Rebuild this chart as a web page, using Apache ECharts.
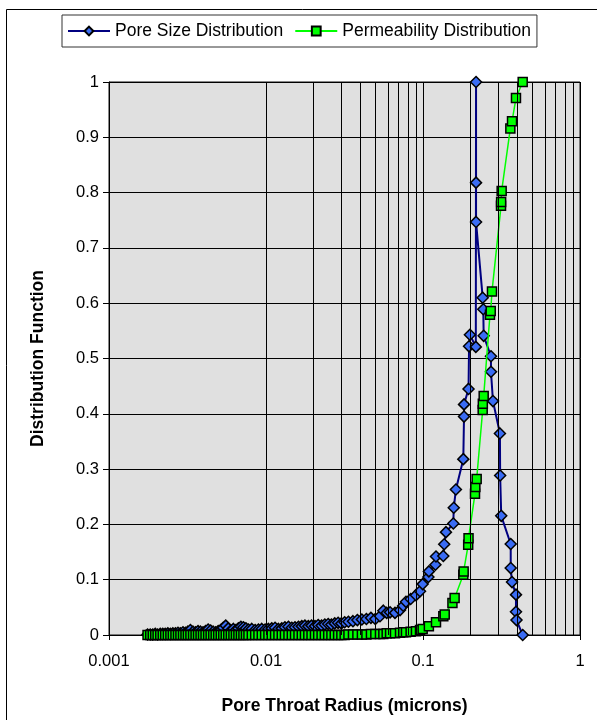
<!DOCTYPE html>
<html>
<head>
<meta charset="utf-8">
<script src="https://cdn.jsdelivr.net/npm/echarts@6/dist/echarts.min.js"></script>
<style>
  html, body { margin: 0; padding: 0; background: #fff; }
  #chart { width: 597px; height: 720px; }
</style>
</head>
<body>
<div id="chart"></div>
<script>
// Low-radius tail shared by both curves (microns)
const tailRadius = [
  0.00176, 0.00183, 0.0019, 0.00197, 0.00204, 0.00212, 0.0022, 0.00228, 0.00237, 0.00246,
  0.00255, 0.00265, 0.00275, 0.00285, 0.00296, 0.00307, 0.00318, 0.0033, 0.00343, 0.00356,
  0.00369, 0.00383, 0.00397, 0.00412, 0.00428, 0.00444, 0.00461, 0.00478, 0.00496, 0.00515,
  0.00534, 0.00554, 0.00575, 0.00597, 0.0062, 0.00643, 0.00667, 0.00692, 0.00718, 0.00745,
  0.00773,
  0.00812, 0.00853, 0.00895, 0.0094, 0.00987, 0.01036, 0.01088, 0.01142, 0.012, 0.0126,
  0.0132, 0.0139, 0.0146, 0.0153, 0.0161, 0.0169, 0.0177, 0.0186, 0.0195, 0.0205,
  0.0215, 0.0226, 0.0237, 0.0249, 0.0261, 0.0274, 0.0288, 0.0302, 0.0317,
  0.0335, 0.0358, 0.0382, 0.0408, 0.0436, 0.0466, 0.0497, 0.0532, 0.0559, 0.0587,
  0.0617, 0.0663, 0.0714, 0.0748, 0.0779, 0.0834, 0.0902, 0.0957, 0.0995
];

// Pore size distribution over the tail
const poreTail = [
  0.001, 0.001, 0.001, 0.002, 0.001, 0.002, 0.002, 0.002, 0.003, 0.002,
  0.003, 0.003, 0.004, 0.003, 0.005, 0.004, 0.006, 0.009, 0.006, 0.005,
  0.007, 0.006, 0.005, 0.007, 0.010, 0.008, 0.006, 0.005, 0.007, 0.009,
  0.013, 0.017, 0.012, 0.008, 0.011, 0.009, 0.012, 0.015, 0.014, 0.012,
  0.010,
  0.011, 0.009, 0.010, 0.011, 0.010, 0.011, 0.012, 0.013, 0.011, 0.012,
  0.014, 0.015, 0.013, 0.014, 0.015, 0.016, 0.017, 0.016, 0.017, 0.016,
  0.018, 0.017, 0.019, 0.020, 0.019, 0.021, 0.022, 0.021, 0.023,
  0.024, 0.025, 0.027, 0.028, 0.029, 0.031, 0.029, 0.034, 0.044, 0.040,
  0.041, 0.040, 0.045, 0.053, 0.060, 0.065, 0.072, 0.079, 0.092
];

// Permeability distribution over the tail
const permTail = [
  0, 0, 0, 0, 0, 0, 0, 0, 0, 0,
  0, 0, 0, 0, 0, 0, 0, 0, 0, 0,
  0, 0, 0, 0, 0, 0, 0, 0, 0, 0,
  0, 0, 0, 0, 0, 0, 0, 0, 0, 0,
  0,
  0, 0, 0, 0, 0, 0, 0, 0, 0, 0,
  0, 0, 0, 0, 0, 0, 0, 0, 0, 0,
  0, 0, 0, 0, 0, 0, 0, 0, 0,
  0.001, 0.001, 0.001, 0.001, 0.001, 0.002, 0.002, 0.002, 0.002, 0.003,
  0.003, 0.003, 0.004, 0.005, 0.005, 0.006, 0.007, 0.009, 0.011
];

// Pore size distribution around the main peak
const poreHeadRadius = [
  0.1083, 0.109, 0.120, 0.121, 0.1347, 0.1365, 0.140, 0.156, 0.157, 0.162,
  0.1806, 0.1825, 0.1825, 0.195, 0.1965, 0.199, 0.217, 0.2177, 0.2177, 0.2177,
  0.240, 0.242, 0.2435, 0.271, 0.271, 0.279, 0.309, 0.310, 0.315, 0.362,
  0.362, 0.369, 0.391, 0.391, 0.394, 0.4315
];
const poreHead = [
  0.105, 0.115, 0.127, 0.142, 0.143, 0.164, 0.186, 0.2016, 0.230, 0.263,
  0.318, 0.395, 0.417, 0.445, 0.522, 0.543, 0.521, 1.0, 0.818, 0.747,
  0.610, 0.589, 0.541, 0.504, 0.476, 0.423, 0.3645, 0.2885, 0.2155, 0.1646,
  0.121, 0.0957, 0.073, 0.042, 0.027, 0
];

// Permeability distribution around the main rise
const permHeadRadius = [
  0.109, 0.121, 0.1347, 0.1375, 0.154, 0.159, 0.1806, 0.1815, 0.194, 0.195,
  0.2144, 0.2155, 0.2197, 0.240, 0.2405, 0.2435, 0.267, 0.270, 0.275, 0.314,
  0.3145, 0.317, 0.360, 0.369, 0.391, 0.4315
];
const permHead = [
  0.016, 0.023, 0.034, 0.037, 0.058, 0.067, 0.109, 0.115, 0.163, 0.175,
  0.2555, 0.2675, 0.282, 0.407, 0.418, 0.432, 0.579, 0.586, 0.621, 0.776,
  0.783, 0.803, 0.916, 0.929, 0.971, 1.0
];

const seriesNames = ['Pore Size Distribution', 'Permeability Distribution'];
const xTickLabels = ['0.001', '0.01', '0.1', '1'];
const yTickLabels = ['0', '0.1', '0.2', '0.3', '0.4', '0.5', '0.6', '0.7', '0.8', '0.9', '1'];
// Intermediate log grid lines (2..9 within each decade)
const minorGrid = [
  0.002, 0.003, 0.004, 0.005, 0.006, 0.007, 0.008, 0.009,
  0.02, 0.03, 0.04, 0.05, 0.06, 0.07, 0.08, 0.09,
  0.2, 0.3, 0.4, 0.5, 0.6, 0.7, 0.8, 0.9
];

function pairs(xs, ys) { return xs.map((x, i) => [x, ys[i]]); }

const poreData = pairs(tailRadius.concat(poreHeadRadius), poreTail.concat(poreHead));
const permData = pairs(tailRadius.concat(permHeadRadius), permTail.concat(permHead));

const FONT = '"Liberation Sans", Arial, sans-serif';

const chart = echarts.init(document.getElementById('chart'), null, { renderer: 'canvas' });
chart.setOption({
  animation: false,
  backgroundColor: '#fff',
  textStyle: { fontFamily: FONT, color: '#000' },
  graphic: [{
    type: 'rect',
    shape: { x: 6.5, y: 9.5, width: 640, height: 760 },
    style: { fill: 'none', stroke: '#000', lineWidth: 1 },
    silent: true,
    z: -10
  }],
  legend: {
    data: seriesNames,
    left: 62,
    top: 15,
    padding: [7, 6, 7, 5],
    itemGap: 11,
    itemWidth: 42,
    itemHeight: 11,
    backgroundColor: '#fff',
    borderColor: '#333',
    borderWidth: 1,
    textStyle: { fontFamily: FONT, fontSize: 17.5, color: '#000' }
  },
  grid: {
    left: 109,
    right: 17,
    top: 82,
    bottom: 81,
    show: true,
    backgroundColor: '#e0e0e0',
    borderColor: '#111',
    borderWidth: 1
  },
  xAxis: {
    type: 'log',
    logBase: 10,
    min: 0.001,
    max: 1,
    name: 'Pore Throat Radius (microns)',
    nameLocation: 'middle',
    nameGap: 62,
    nameTextStyle: { fontFamily: FONT, fontSize: 17.5, fontWeight: 'bold', color: '#000' },
    axisLine: { show: true, onZero: false, lineStyle: { color: '#000', width: 1 } },
    axisTick: { show: true, inside: false, length: 5, lineStyle: { color: '#000' } },
    axisLabel: {
      fontFamily: FONT, fontSize: 16.5, color: '#000', margin: 18,
      formatter: (v, i) => xTickLabels[i]
    },
    splitLine: { show: true, lineStyle: { color: '#000', width: 1 } },
    minorTick: { show: false },
    minorSplitLine: { show: false }
  },
  yAxis: {
    type: 'value',
    min: 0,
    max: 1,
    interval: 0.1,
    name: 'Distribution Function',
    nameLocation: 'middle',
    nameGap: 62,
    nameTextStyle: { fontFamily: FONT, fontSize: 17.5, fontWeight: 'bold', color: '#000' },
    axisLine: { show: true, lineStyle: { color: '#000', width: 1 } },
    axisTick: { show: true, inside: false, length: 6, lineStyle: { color: '#000' } },
    axisLabel: {
      fontFamily: FONT, fontSize: 16.5, color: '#000', margin: 10,
      formatter: (v, i) => yTickLabels[i]
    },
    splitLine: { show: true, lineStyle: { color: '#000', width: 1 } }
  },
  series: [
    {
      type: 'line',
      data: [],
      z: 1,
      silent: true,
      markLine: {
        silent: true,
        animation: false,
        symbol: ['none', 'none'],
        label: { show: false },
        emphasis: { disabled: true },
        lineStyle: { color: '#000', width: 1, type: 'solid' },
        data: minorGrid.map(v => ({ xAxis: v }))
      }
    },
    {
      name: seriesNames[0],
      type: 'line',
      data: poreData,
      z: 3,
      symbol: 'diamond',
      symbolSize: [11, 11],
      showSymbol: true,
      lineStyle: { color: '#000080', width: 2 },
      itemStyle: { color: '#3a6cf4', borderColor: '#000', borderWidth: 1.5 },
      emphasis: { disabled: true }
    },
    {
      name: seriesNames[1],
      type: 'line',
      data: permData,
      z: 4,
      symbol: 'rect',
      symbolSize: [9, 9],
      showSymbol: true,
      lineStyle: { color: '#00ff00', width: 1.5 },
      itemStyle: { color: '#00ff00', borderColor: '#000', borderWidth: 1.5 },
      emphasis: { disabled: true }
    }
  ]
});
</script>
</body>
</html>
